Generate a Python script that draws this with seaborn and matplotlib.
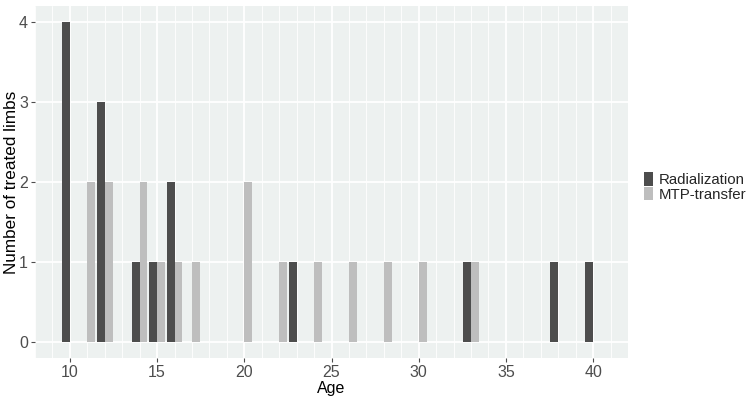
import matplotlib
matplotlib.use("Agg")
import matplotlib.pyplot as plt
import matplotlib.patches as mpatches
import seaborn as sns
import pandas as pd
import numpy as np

# ---- data ----
rad_ages = [10, 12, 14, 15, 16, 23, 33, 38, 40]
rad_counts = [4, 3, 1, 1, 2, 1, 1, 1, 1]
mtp_ages = [11, 12, 14, 15, 16, 17, 20, 22, 24, 26, 28, 30, 33]
mtp_counts = [2, 2, 2, 1, 1, 1, 2, 1, 1, 1, 1, 1, 1]
groups = ["Radialization", "MTP-transfer"]
colors = ["#4D4D4D", "#BEBEBE"]
x_ticks = [10, 15, 20, 25, 30, 35, 40]
y_ticks = [0, 1, 2, 3, 4]

df = pd.DataFrame({
    "Age": rad_ages + mtp_ages,
    "Count": rad_counts + mtp_counts,
    "Group": [groups[0]] * len(rad_ages) + [groups[1]] * len(mtp_ages),
})

sns.set_theme(style="white")
plt.rcParams["font.family"] = ["Liberation Sans", "DejaVu Sans"]

W, H = 749, 397
fig = plt.figure(figsize=(W / 100, H / 100), dpi=100)
ax = fig.add_axes([35 / W, (H - 358) / H, (628 - 35) / W, (358 - 6) / H])
ax.set_facecolor("#EDF1F0")

sns.barplot(data=df, x="Age", y="Count", hue="Group", hue_order=groups,
            palette=colors, native_scale=True, width=0.9, dodge=True,
            saturation=1, linewidth=0, errorbar=None, legend=False, ax=ax,
            zorder=3)

ax.set_xlim(8.0, 42.0)
ax.set_ylim(-0.2, 4.2)
ax.set_xticks(x_ticks)
ax.set_xticklabels([str(t) for t in x_ticks])
ax.set_xticks(np.arange(8, 43, 1), minor=True)
ax.set_yticks(y_ticks)
ax.set_yticklabels([str(t) for t in y_ticks])

ax.grid(which="major", axis="both", color="white", linewidth=1.3, zorder=1)
ax.grid(which="minor", axis="x", color="white", linewidth=0.6, zorder=1)
ax.set_axisbelow(True)

for s in ax.spines.values():
    s.set_visible(False)

ax.tick_params(axis="both", which="major", length=3, width=0.8, color="#4D4D4D",
               labelcolor="#4D4D4D", labelsize=11.5, pad=2, direction="out",
               bottom=True, left=True)
ax.tick_params(axis="x", which="minor", length=0)

ax.set_xlabel("Age", fontsize=11.5, color="black", labelpad=1)
ax.set_ylabel("Number of treated limbs", fontsize=12.3, color="black", labelpad=0)

handles = [mpatches.Patch(facecolor=c, edgecolor="none") for c in colors]
fig.legend(handles, groups, loc="center left",
           bbox_to_anchor=(633 / W, (H - 187) / H), frameon=False,
           fontsize=10.8, handlelength=0.65, handleheight=1.0,
           handletextpad=0.4, labelspacing=0.0, borderpad=0.2)

fig.savefig("out.png", dpi=100)
